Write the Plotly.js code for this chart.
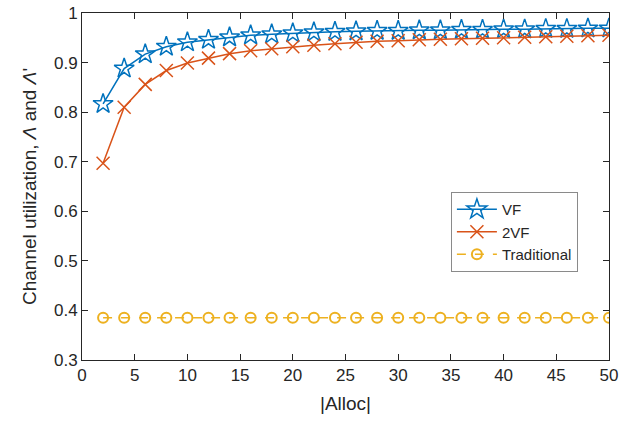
<!DOCTYPE html>
<html><head><meta charset="utf-8">
<script src="https://cdn.plot.ly/plotly-3.0.1.min.js"></script>
<style>body{margin:0;padding:0;background:#fff}#chart{width:641px;height:429px}</style>
</head><body><div id="chart"></div>
<script>
const allocSizes = [2,4,6,8,10,12,14,16,18,20,22,24,26,28,30,32,34,36,38,40,42,44,46,48,50];
const vfUtil = [0.8165,0.888,0.917,0.932,0.941,0.946,0.951,0.955,0.957,0.959,0.961,0.962,0.963,0.964,0.964,0.965,0.965,0.966,0.966,0.967,0.967,0.968,0.968,0.969,0.969];
const twoVfUtil = [0.697,0.810,0.856,0.884,0.899,0.909,0.918,0.924,0.928,0.932,0.935,0.938,0.941,0.943,0.944,0.946,0.947,0.948,0.949,0.950,0.951,0.952,0.953,0.954,0.955];
const traditionalUtil = [0.385,0.385,0.385,0.385,0.385,0.385,0.385,0.385,0.385,0.385,0.385,0.385,0.385,0.385,0.385,0.385,0.385,0.385,0.385,0.385,0.385,0.385,0.385,0.385,0.385];
const seriesNames = ["VF","2VF","Traditional"];
const xTicks = [0,5,10,15,20,25,30,35,40,45,50];
const yTicks = [0.3,0.4,0.5,0.6,0.7,0.8,0.9,1];
const yTickText = ["0.3","0.4","0.5","0.6","0.7","0.8","0.9","1"];

const font = {family:"Liberation Sans, Arial, sans-serif", size:17, color:"#262626"};
const traces = [
  {x:allocSizes, y:vfUtil, name:seriesNames[0], mode:"lines+markers",
   line:{color:"#0072BD", width:1.5},
   marker:{symbol:"star-open", size:15, color:"#0072BD", line:{width:1.5, color:"#0072BD"}}},
  {x:allocSizes, y:twoVfUtil, name:seriesNames[1], mode:"lines+markers",
   line:{color:"#D95319", width:1.5},
   marker:{symbol:"x-thin-open", size:13, color:"#D95319", line:{width:1.5, color:"#D95319"}}},
  {x:allocSizes, y:traditionalUtil, name:seriesNames[2], mode:"lines+markers",
   line:{color:"#EDB120", width:1.5, dash:"dash"},
   marker:{symbol:"circle-open", size:10, color:"#EDB120", line:{width:2, color:"#EDB120"}}}
];
const axisCommon = {showline:true, mirror:"ticks", linecolor:"#262626", linewidth:1,
  ticks:"inside", ticklen:6, tickcolor:"#262626", showgrid:false, zeroline:false,
  tickfont:font};
const layout = {
  width:641, height:429,
  margin:{l:82, r:32, t:13, b:69},
  paper_bgcolor:"#fff", plot_bgcolor:"#fff",
  font:font,
  xaxis:Object.assign({}, axisCommon, {range:[0,50], tickvals:xTicks,
    title:{text:"|Alloc|", font:{family:font.family, size:19, color:"#262626"}, standoff:12}}),
  yaxis:Object.assign({}, axisCommon, {range:[0.3,1], tickvals:yTicks, ticktext:yTickText,
    title:{text:"Channel utilization, <i>Λ</i> and <i>Λ</i>'", font:{family:font.family, size:19, color:"#262626"}, standoff:12}}),
  showlegend:true,
  legend:{x:0.70, y:0.484, xanchor:"left", yanchor:"top", bgcolor:"#fff",
    bordercolor:"#8a8a8a", borderwidth:1, font:{family:font.family, size:15, color:"#262626"},
    tracegroupgap:0, itemwidth:40}
};
Plotly.newPlot("chart", traces, layout, {displayModeBar:false, staticPlot:true});
</script></body></html>
